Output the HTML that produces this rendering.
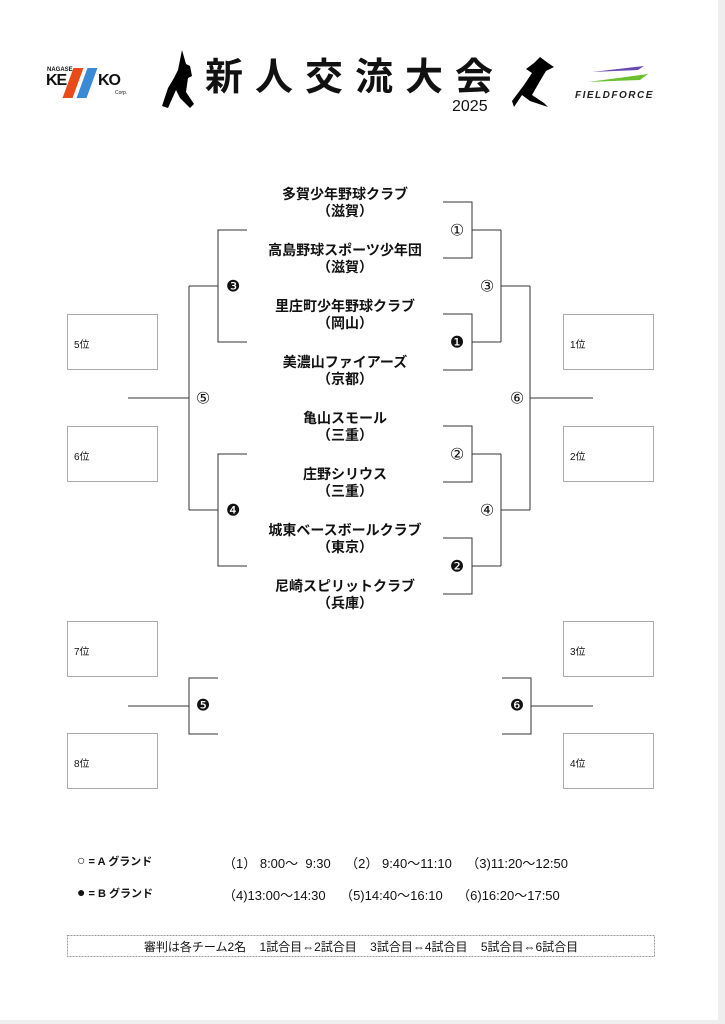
<!DOCTYPE html>
<html><head><meta charset="utf-8"><style>
html,body{margin:0;padding:0;background:#fff}
body{width:725px;height:1024px;position:relative;overflow:hidden;font-family:"Liberation Sans","Noto Sans CJK JP",sans-serif;color:#111}
.t{position:absolute;left:245px;width:200px;text-align:center;font-weight:bold;font-size:14px;line-height:17px}
.box{position:absolute;width:91px;height:56px;border:1px solid #aaa;font-size:10px;box-sizing:border-box}
.box span{position:absolute;left:6px;top:21px}
.n{position:absolute;font-size:16px;transform:translate(-50%,-50%);font-family:"DejaVu Sans","Noto Sans CJK JP",sans-serif}
.lg{position:absolute;font-size:13px}
</style></head><body>
<div style="position:absolute;right:0;top:0;width:7px;height:1024px;background:#eee"></div>
<div style="position:absolute;left:0;bottom:0;width:725px;height:4px;background:#eee"></div>
<!-- header -->
<div style="position:absolute;left:47px;top:67px;font-size:6px;font-weight:bold">NAGASE</div>
<div style="position:absolute;left:46px;top:72px;font-size:16px;font-weight:900;letter-spacing:-1px">KE</div>
<div style="position:absolute;left:68px;top:68px;width:10px;height:30px;background:#e84a1a;transform:skewX(-20deg)"></div>
<div style="position:absolute;left:82px;top:68px;width:10px;height:30px;background:#3a8ad8;transform:skewX(-20deg)"></div>
<div style="position:absolute;left:98px;top:72px;font-size:16px;font-weight:900;letter-spacing:-1px">KO</div>
<div style="position:absolute;left:115px;top:90px;font-size:5px">Corp.</div>
<svg style="position:absolute;left:160px;top:48px" width="45" height="62"><path d="M22 2 L18 22 L14 30 L8 40 L2 58 L8 60 L16 42 L20 50 L30 60 L34 56 L26 44 L28 30 L32 28 L30 18 L26 16 Z" fill="#000"/></svg>
<div style="position:absolute;left:205px;top:56px;font-size:38px;font-weight:bold;letter-spacing:12px;line-height:44px">新人交流大会</div>
<div style="position:absolute;left:452px;top:98px;font-size:16px">2025</div>
<svg style="position:absolute;left:510px;top:55px" width="50" height="55"><path d="M30 2 L38 8 L44 12 L36 16 L30 26 L22 40 L34 48 L38 52 L20 46 L12 40 L4 52 L2 46 L14 30 L22 18 L16 14 L24 8 Z" fill="#000"/></svg>
<svg style="position:absolute;left:582px;top:64px" width="70" height="22"><path d="M10 8 L62 2 L56 6 Z" fill="#6a4ab0"/><path d="M6 18 L66 10 L58 16 Z" fill="#6cc030"/></svg>
<div style="position:absolute;left:575px;top:90px;font-size:10px;font-weight:bold;font-style:italic;letter-spacing:1.5px;color:#222">FIELDFORCE</div>
<!-- teams -->
<div class="t" style="top:186px">多賀少年野球クラブ<br>（滋賀）</div>
<div class="t" style="top:242px">高島野球スポーツ少年団<br>（滋賀）</div>
<div class="t" style="top:298px">里庄町少年野球クラブ<br>（岡山）</div>
<div class="t" style="top:354px">美濃山ファイアーズ<br>（京都）</div>
<div class="t" style="top:410px">亀山スモール<br>（三重）</div>
<div class="t" style="top:466px">庄野シリウス<br>（三重）</div>
<div class="t" style="top:522px">城東ベースボールクラブ<br>（東京）</div>
<div class="t" style="top:578px">尼崎スピリットクラブ<br>（兵庫）</div>
<svg style="position:absolute;left:0;top:0" width="725" height="1024" fill="none" stroke="#333" stroke-width="1">
<path d="M443 202H472V258H443M472 230H501"/>
<path d="M443 314H472V370H443M472 342H501"/>
<path d="M443 426H472V482H443M472 454H501"/>
<path d="M443 538H472V594H443M472 566H501"/>
<path d="M501 230V342M501 286H530M501 454V566M501 510H530M530 286V510M530 398H593"/>
<path d="M247 230H218V342H247M218 286H189M247 454H218V566H247M218 510H189M189 286V510M189 398H128"/>
<path d="M218 678H189V734H218M189 706H128"/>
<path d="M502 678H531V734H502M531 706H593"/>
<rect x="67.5" y="935.5" width="587" height="21" stroke="#999" stroke-dasharray="2,1"/>
</svg>
<div class="n" style="left:457px;top:230px">①</div>
<div class="n" style="left:457px;top:342px">❶</div>
<div class="n" style="left:457px;top:454px">②</div>
<div class="n" style="left:457px;top:566px">❷</div>
<div class="n" style="left:487px;top:286px">③</div>
<div class="n" style="left:487px;top:510px">④</div>
<div class="n" style="left:517px;top:398px">⑥</div>
<div class="n" style="left:233px;top:286px">❸</div>
<div class="n" style="left:233px;top:510px">❹</div>
<div class="n" style="left:203px;top:398px">⑤</div>
<div class="n" style="left:203px;top:705px">❺</div>
<div class="n" style="left:517px;top:705px">❻</div>
<div class="box" style="left:67px;top:314px"><span>5位</span></div>
<div class="box" style="left:67px;top:426px"><span>6位</span></div>
<div class="box" style="left:67px;top:621px"><span>7位</span></div>
<div class="box" style="left:67px;top:733px"><span>8位</span></div>
<div class="box" style="left:563px;top:314px"><span>1位</span></div>
<div class="box" style="left:563px;top:426px"><span>2位</span></div>
<div class="box" style="left:563px;top:621px"><span>3位</span></div>
<div class="box" style="left:563px;top:733px"><span>4位</span></div>
<div class="lg" style="left:77px;top:852px;font-weight:bold;font-size:11px"><span style="font-size:14px">○</span> = A グランド</div>
<div class="lg" style="left:77px;top:884px;font-weight:bold;font-size:11px"><span style="font-size:14px">●</span> = B グランド</div>
<div class="lg" style="left:223px;top:853px;white-space:pre">（1） 8:00～  9:30    （2） 9:40～11:10    （3)11:20～12:50</div>
<div class="lg" style="left:223px;top:885px;white-space:pre">（4)13:00～14:30    （5)14:40～16:10    （6)16:20～17:50</div>
<div style="position:absolute;left:67px;top:938px;width:588px;text-align:center;font-size:12px;white-space:pre">審判は各チーム2名    1試合目⇔2試合目    3試合目⇔4試合目    5試合目⇔6試合目</div>
</body></html>
